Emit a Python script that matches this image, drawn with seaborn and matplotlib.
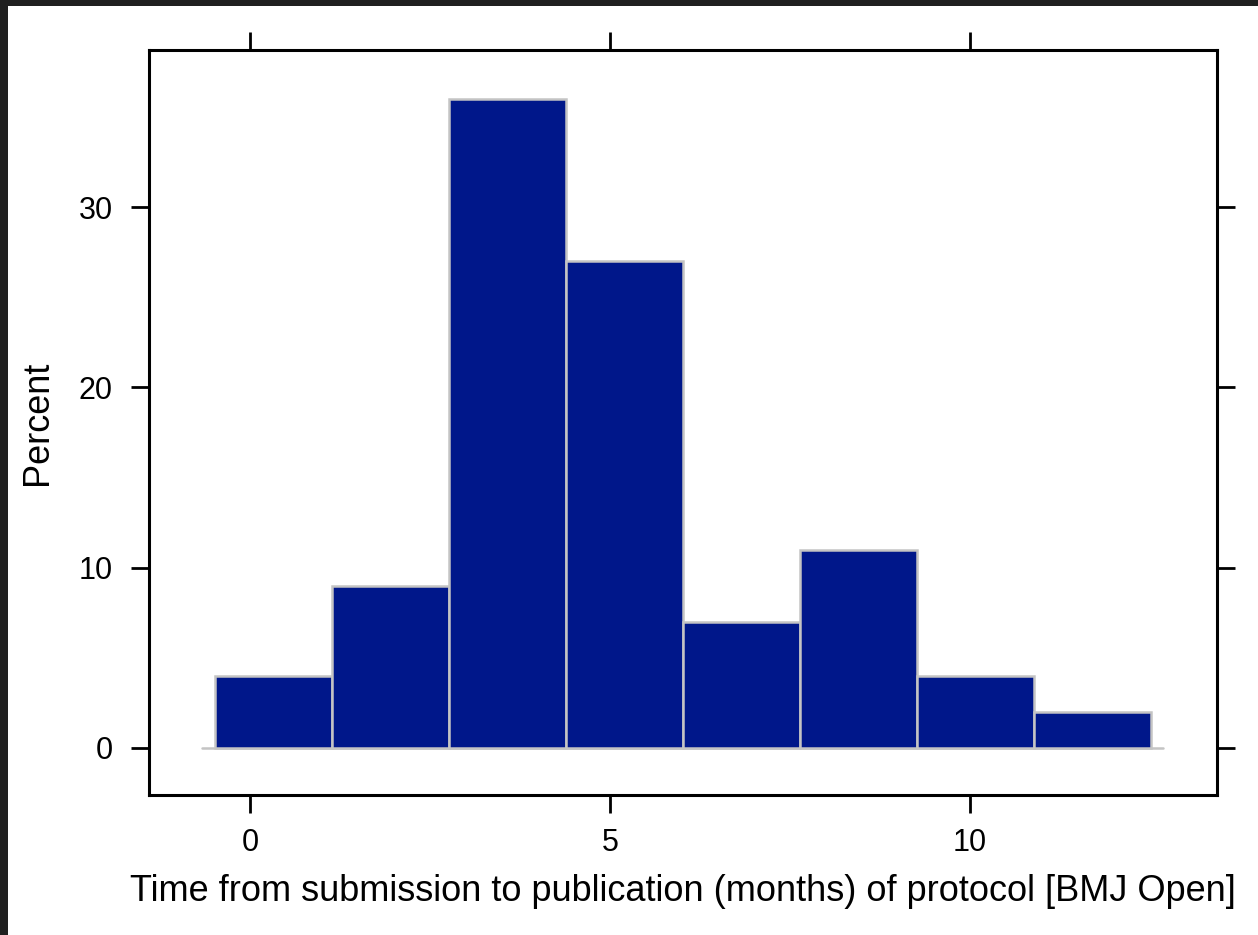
import matplotlib
matplotlib.use("Agg")
import matplotlib.pyplot as plt
import seaborn as sns
import numpy as np
from matplotlib.patches import Rectangle

# Data
bin_edges = [-0.486, 1.139, 2.764, 4.389, 6.014, 7.639, 9.264, 10.889, 12.514]
percent = [4, 9, 36, 27, 7, 11, 4, 2]
xticks = [0, 5, 10]
yticks = [0, 10, 20, 30]
xlabel = "Time from submission to publication (months) of protocol [BMJ Open]"
ylabel = "Percent"

bin_centers = [(a + b) / 2 for a, b in zip(bin_edges[:-1], bin_edges[1:])]

sns.set_style("white")
plt.rcParams["font.family"] = ["Liberation Sans", "DejaVu Sans"]
plt.rcParams["text.color"] = "black"
plt.rcParams["axes.labelcolor"] = "black"

fig = plt.figure(figsize=(12.58, 9.35), dpi=100)
fig.patch.set_facecolor("#202020")
fig.add_artist(Rectangle((8 / 1258, 0), 1, 1 - 6 / 935, transform=fig.transFigure,
                         facecolor="white", edgecolor="none", zorder=-10))

ax = fig.add_axes([149 / 1258, 1 - 795 / 935, (1217 - 149) / 1258, (795 - 50) / 935])
ax.set_facecolor("white")

sns.histplot(x=bin_centers, weights=percent, bins=bin_edges, ax=ax,
             color="#00178A", alpha=1, edgecolor="#C4C4C4", linewidth=1.8)
ax.axhline(0, xmin=0.0496, xmax=0.9494, color="#C4C4C4", lw=1.8, zorder=0.5)

ax.set_xlim(-1.403, 13.43)
ax.set_ylim(-2.61, 38.71)
ax.set_xticks(xticks)
ax.set_yticks(yticks)
ax.tick_params(axis="both", which="both", direction="out", length=13, width=2.0,
               top=True, right=True, bottom=True, left=True,
               labeltop=False, labelright=False, labelbottom=True, labelleft=True,
               labelsize=22, colors="black", labelcolor="black")
ax.tick_params(axis="x", pad=11)
ax.tick_params(axis="y", pad=13)
for s in ax.spines.values():
    s.set_visible(True)
    s.set_color("black")
    s.set_linewidth(2.2)

ax.set_xlabel(xlabel, fontsize=26, labelpad=11, color="black")
ax.set_ylabel(ylabel, fontsize=26, labelpad=17, color="black")

fig.savefig("out.png", dpi=100, facecolor=fig.get_facecolor())
